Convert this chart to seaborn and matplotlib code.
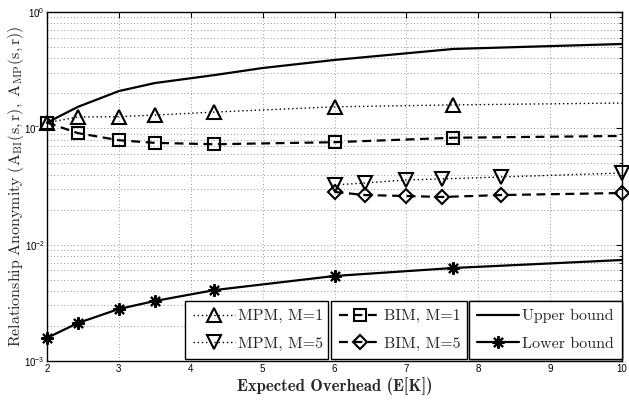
import numpy as np
import pandas as pd
import matplotlib
matplotlib.use("Agg")
import matplotlib.pyplot as plt
import seaborn as sns
from matplotlib.lines import Line2D
from matplotlib.font_manager import FontProperties

# ---------------- data ----------------
x_main = [2, 2.43, 3, 3.5, 4.33, 6, 7.65, 10]
x_upper = [2, 2.43, 3, 3.5, 4.33, 5, 6, 7.65, 10]
upper_bound = [0.112, 0.153, 0.209, 0.245, 0.287, 0.330, 0.387, 0.481, 0.531]
lower_bound = [0.00158, 0.00212, 0.0028, 0.00328, 0.00407, 0.00538, 0.0063, 0.00738]
mpm_m1 = [0.112, 0.125, 0.126, 0.130, 0.138, 0.153, 0.159, 0.165]
bim_m1 = [0.112, 0.091, 0.079, 0.075, 0.073, 0.076, 0.083, 0.086]
x_m5 = [6, 6.42, 7.0, 7.5, 8.32, 10]
mpm_m5 = [0.0326, 0.0339, 0.036, 0.0367, 0.0382, 0.0413]
bim_m5 = [0.0284, 0.0267, 0.0262, 0.0257, 0.0267, 0.0278]

x_ticks = [2, 3, 4, 5, 6, 7, 8, 9, 10]
y_ticks = [1e-3, 1e-2, 1e-1, 1e0]
y_ticklabels = [r"$10^{-3}$", r"$10^{-2}$", r"$10^{-1}$", r"$10^{0}$"]

labels_mpm = ["MPM, M=1", "MPM, M=5"]
labels_bim = ["BIM, M=1", "BIM, M=5"]
labels_bound = ["Upper bound", "Lower bound"]
xlabel = "Expected Overhead (E[K])"
ylabel = r"$\mathrm{Relationship\ Anonymity\ (A_{BI}(s,r),\ A_{MP}(s,r))}$"

# ---------------- style ----------------
sns.set_theme(style="white")
plt.rcParams["font.family"] = ["Liberation Sans", "DejaVu Sans"]
plt.rcParams["mathtext.fontset"] = "custom"
plt.rcParams["mathtext.rm"] = "Liberation Sans"
plt.rcParams["mathtext.it"] = "Liberation Sans:italic"
plt.rcParams["mathtext.bf"] = "Liberation Sans:bold"

fig = plt.figure(figsize=(6.29, 4.03), dpi=100, facecolor="white")
ax = fig.add_axes([47 / 629, 1 - 361 / 403, 575 / 629, 349 / 403])

dotted = (0, (1, 2))
dashed = (0, (4, 2.5))
star = (8, 2, 0)
common = dict(ax=ax, color="black", markerfacecolor="none", markeredgecolor="black",
              markeredgewidth=1.5, markersize=9.5, clip_on=False)

sns.lineplot(x=x_upper, y=upper_bound, linewidth=1.6, linestyle="-", ax=ax, color="black", clip_on=False)
sns.lineplot(x=x_main, y=lower_bound, linewidth=1.6, linestyle="-", marker=star,
             markevery=list(range(7)), **{**common, "markersize": 9})
sns.lineplot(x=x_main, y=mpm_m1, linewidth=1.0, linestyle=dotted, marker="^",
             markevery=list(range(7)), **common)
sns.lineplot(x=x_main, y=bim_m1, linewidth=1.6, linestyle=dashed, marker="s",
             markevery=list(range(7)), **{**common, "markersize": 8})
sns.lineplot(x=x_m5, y=mpm_m5, linewidth=1.0, linestyle=dotted, marker="v", **common)
sns.lineplot(x=x_m5, y=bim_m5, linewidth=1.6, linestyle=dashed, marker="D", **{**common, "markersize": 7.5})

ax.set_yscale("log")
ax.set_xlim(2, 10)
ax.set_ylim(1e-3, 1)
ax.set_xticks(x_ticks)
ax.set_xticklabels([str(v) for v in x_ticks])
ax.set_yticks(y_ticks)
ax.set_yticklabels(y_ticklabels)
ax.xaxis.set_minor_locator(matplotlib.ticker.NullLocator())
ax.yaxis.set_minor_locator(matplotlib.ticker.LogLocator(base=10, subs=np.arange(2, 10)))
ax.yaxis.set_minor_formatter(matplotlib.ticker.NullFormatter())

ax.tick_params(which="both", direction="in", top=True, right=True, labelsize=7, colors="black")
ax.tick_params(axis="y", pad=1.5)
ax.tick_params(axis="x", pad=2.5)
ax.tick_params(which="major", length=4, width=0.8)
ax.tick_params(which="minor", length=2, width=0.6)

gkw = dict(color="0.45", linestyle=(0, (1, 3)), linewidth=0.6)
ax.grid(True, which="major", axis="both", **gkw)
ax.grid(True, which="minor", axis="y", **gkw)
ax.set_axisbelow(True)

for s in ax.spines.values():
    s.set_visible(True)
    s.set_color("black")
    s.set_linewidth(1.0)

ax.set_xlabel(xlabel, fontsize=12, fontfamily="cmb10", labelpad=2)
ax.set_ylabel(ylabel, fontsize=11.5, math_fontfamily="cm")
ax.yaxis.set_label_coords(-0.037, 0.5)

# ---------------- legends (three boxes) ----------------
def proxy(ls, lw, marker=None, ms=9.5):
    return Line2D([], [], color="black", linestyle=ls, linewidth=lw, marker=marker,
                  markerfacecolor="none", markeredgecolor="black", markeredgewidth=1.5, markersize=ms)

lprop = FontProperties(family="cmr10", size=11.5)
boxes = [
    ([proxy(dotted, 1.0, "^"), proxy(dotted, 1.0, "v")], labels_mpm, (185 - 47) / 575, (328 - 47) / 575),
    ([proxy(dashed, 1.6, "s", 8), proxy(dashed, 1.6, "D", 7.5)], labels_bim, (331 - 47) / 575, (467 - 47) / 575),
    ([proxy("-", 1.6), proxy("-", 1.6, star, 9)], labels_bound, (469 - 47) / 575, 1.0),
]
for handles, labs, x0, x1 in boxes:
    leg = ax.legend(handles, labs, loc="lower left", bbox_to_anchor=(x0, 0.006, x1 - x0, 0.17),
                    mode="expand", prop=lprop, handlelength=2.6, handletextpad=0.2,
                    labelspacing=0.85, borderpad=0.5, borderaxespad=0.0, fancybox=False,
                    framealpha=1.0, edgecolor="black", facecolor="white", numpoints=1)
    leg.get_frame().set_linewidth(1.0)
    ax.add_artist(leg)

fig.savefig("out.png", dpi=100, facecolor="white")
